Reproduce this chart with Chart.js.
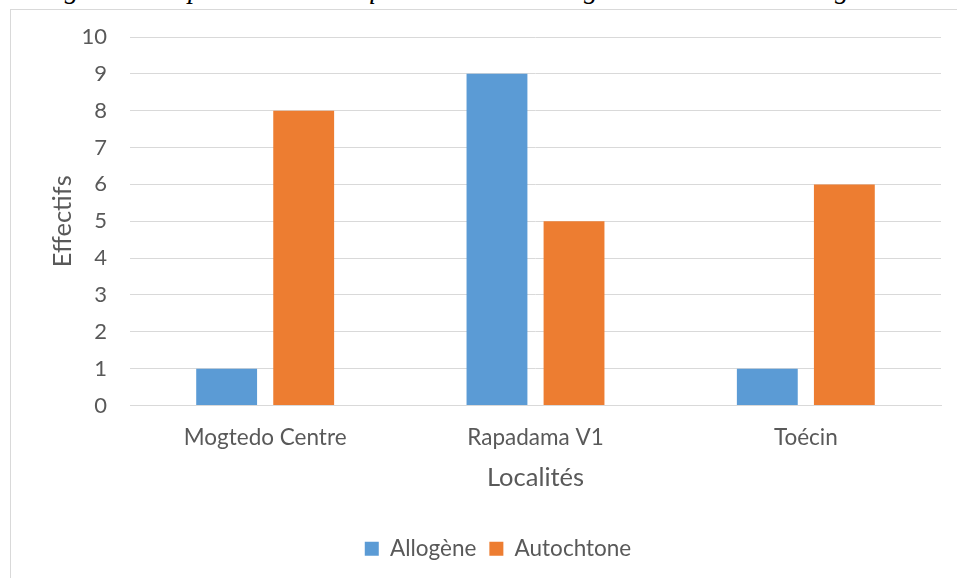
<!DOCTYPE html>
<html lang="fr">
<head>
<meta charset="utf-8">
<title>Répartition des enquêtés</title>
<script src="https://cdn.jsdelivr.net/npm/chart.js@4/dist/chart.umd.min.js"></script>
<style>
  html, body { margin: 0; padding: 0; background: #ffffff; }
  body { width: 957px; height: 578px; overflow: hidden; position: relative; }
  #caption {
    position: absolute; left: 40px; top: -25px;
    font-family: "Liberation Serif", "DejaVu Serif", serif;
    font-style: italic; font-size: 27.8px; line-height: 1;
    color: #000000; white-space: nowrap;
  }
  #frame {
    position: absolute; left: 10px; top: 9px;
    width: 977px; height: 590px;
    border: 1px solid #d9d9d9; background: #ffffff;
  }
  #chart { display: block; }
</style>
</head>
<body>
<div id="frame"><canvas id="chart" width="977" height="590"></canvas></div>
<div id="caption">Figure 4 : Répartition des enquêtés dans les catégories autochtone/allogène</div>
<script>
// Localités enquêtées
const categories = ["Mogtedo Centre", "Rapadama V1", "Toécin"];
// Effectifs par catégorie
const allogene = [1, 9, 1];
const autochtone = [8, 5, 6];
// Graduations de l'axe des effectifs
const yTicks = [0, 1, 2, 3, 4, 5, 6, 7, 8, 9, 10];

const textColor = "#595959";
const gridColor = "#d9d9d9";
const fontFamily = "Lato, 'Open Sans', sans-serif";

new Chart(document.getElementById("chart"), {
  type: "bar",
  data: {
    labels: categories,
    datasets: [
      { label: "Allogène", data: allogene, backgroundColor: "#5b9bd5",
        categoryPercentage: 0.57, barPercentage: 0.79 },
      { label: "Autochtone", data: autochtone, backgroundColor: "#ed7d31",
        categoryPercentage: 0.57, barPercentage: 0.79 }
    ]
  },
  options: {
    responsive: false,
    animation: false,
    layout: { padding: { left: 44, right: 47, top: 27, bottom: 30 } },
    plugins: {
      tooltip: { enabled: false },
      legend: {
        position: "bottom",
        labels: {
          color: textColor, boxWidth: 14, boxHeight: 14, padding: 13,
          font: { family: fontFamily, size: 22.5 }
        }
      }
    },
    scales: {
      x: {
        afterFit: (scale) => { scale.height = 119; },
        grid: { display: false, drawTicks: false },
        border: { display: true, color: gridColor, width: 1 },
        ticks: { color: textColor, padding: 19, font: { family: fontFamily, size: 22.5 } },
        title: {
          display: true, text: "Localités", color: textColor,
          font: { family: fontFamily, size: 25.5 },
          padding: { top: 12, bottom: 31 }
        }
      },
      y: {
        min: 0, max: 10,
        afterBuildTicks: (scale) => { scale.ticks = yTicks.map(v => ({ value: v })); },
        afterFit: (scale) => { scale.width = 75; },
        grid: { color: gridColor, lineWidth: 1, drawTicks: false },
        border: { display: false },
        // compact line height keeps the top label from reserving extra space above the grid
        ticks: { color: textColor, padding: 23, font: { family: fontFamily, size: 22, lineHeight: 0.3 } },
        title: {
          display: true, text: "Effectifs", color: textColor,
          font: { family: fontFamily, size: 25.5 },
          padding: { top: -8, bottom: 0 }
        }
      }
    }
  }
});
</script>
</body>
</html>
